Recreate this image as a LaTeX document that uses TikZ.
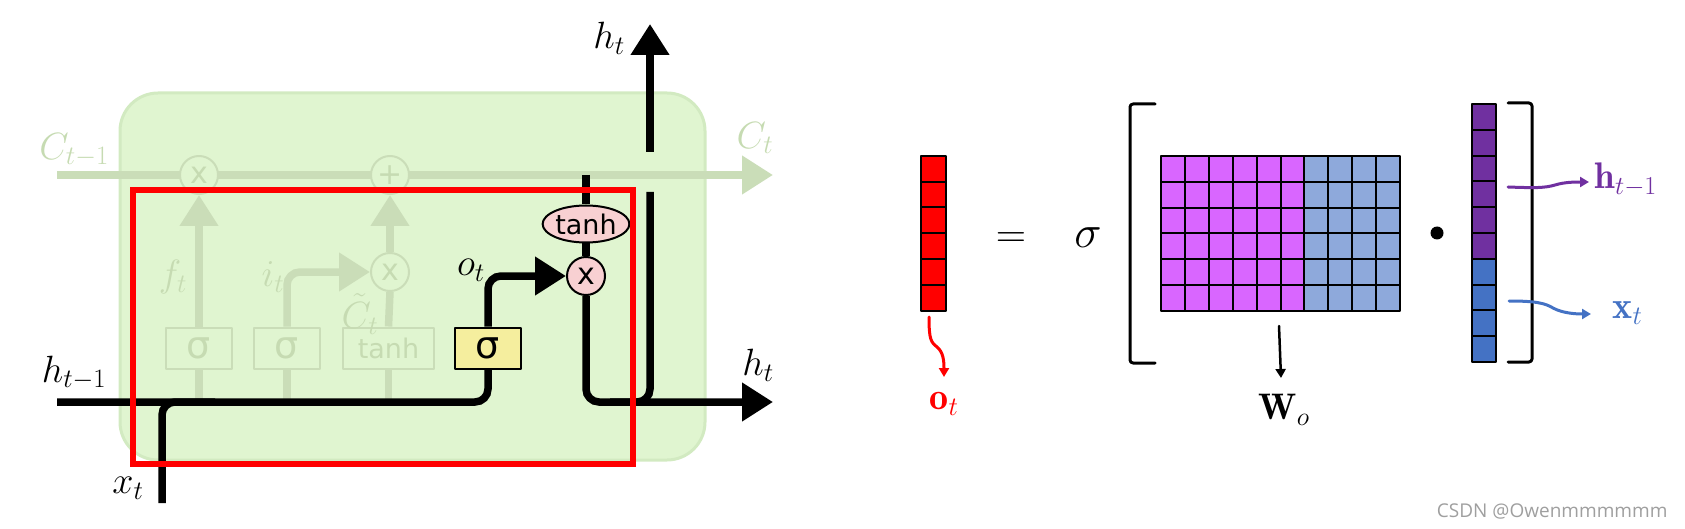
\RequirePackage{fix-cm}
\documentclass[tikz,border=0pt]{standalone}
\usepackage{amsmath,amssymb}
\usepackage{fontspec}
\newfontfamily\gatefont{DejaVu Sans}
\newfontfamily\markfont{Open Sans}
\usetikzlibrary{arrows.meta,shapes.geometric}
\definecolor{cellgreen}{HTML}{E0F5D0}
\definecolor{cellrim}{HTML}{D2EAC1}
\definecolor{faded}{HTML}{CADDB8}
\definecolor{fadetxt}{HTML}{C6DBB2}
\definecolor{gateyellow}{HTML}{F5EE9E}
\definecolor{gatepink}{HTML}{F8D0D2}
\definecolor{wpurple}{HTML}{D966FF}
\definecolor{wblue}{HTML}{8EA9DB}
\definecolor{hpurple}{HTML}{7030A0}
\definecolor{xblue}{HTML}{4472C4}
\pgfdeclarelayer{back}
\pgfdeclarelayer{wires}
\pgfsetlayers{back,wires,main}
\tikzset{
  every picture/.style={line join=round, line cap=round, >=Stealth},
  wire/.style={line width=7.5pt, rounded corners=13pt},
  fadewire/.style={draw=faded, line width=7.5pt, rounded corners=13pt},
  bigtip/.style={-{Triangle[length=31pt,width=37pt]}},
  smalltip/.style={-{Triangle[length=9pt,width=10pt]}},
  fadebox/.style={draw=faded, fill=cellgreen, line width=2pt, minimum width=66pt, minimum height=41pt, inner sep=0pt, text=fadetxt},
  fadeop/.style={circle, draw=faded, fill=cellgreen, line width=2pt, minimum size=38pt, inner sep=0pt, text=fadetxt, font=\gatefont\fontsize{30}{30}\selectfont},
  sig/.style={font=\gatefont\fontsize{38}{38}\selectfont},
  tnh/.style={font=\gatefont\fontsize{27}{27}\selectfont},
  lbl/.style={font=\fontsize{38}{40}\selectfont, inner sep=0pt},
  cellbox/.style={draw=black, line width=2pt},
}

\begin{document}
\begin{tikzpicture}[x=1pt,y=-1pt]
\useasboundingbox (0,0) rectangle (1685,529);
\begin{pgfonlayer}{back}
\draw[cellrim, fill=cellgreen, line width=3pt, rounded corners=38pt] (120,93) rectangle (705,460);
\end{pgfonlayer}

% end points of the wires
\coordinate (cin) at (57,175);
\coordinate (cout) at (773,175);
\coordinate (hin) at (57,402);
\coordinate (xin) at (162,503);
\coordinate (xj) at (215,402);
\coordinate (ctap) at (586,175);
\coordinate (hout) at (773,402);
\coordinate (hj) at (610,402);
\coordinate (hgap) at (650,192);
\coordinate (hup) at (650,152);
\coordinate (htop) at (650,24);

% faded gates
\node[fadeop] (fmul) at (199,175) {x};
\node[fadeop] (cadd) at (390,175) {+};
\node[fadeop] (imul) at (390,272) {x};
\node[fadebox, sig] (fsig) at (199,348) {σ};
\node[fadebox, sig] (isig) at (287,348) {σ};
\node[fadebox, tnh, minimum width=91pt] (ctanh) at (388.5,348) {tanh};
\node[lbl, text=fadetxt] (flab) at (173,277) {$f_t$};
\node[lbl, text=fadetxt] (ilab) at (273,277) {$i_t$};
\node[lbl, text=fadetxt] (clab) at (360,314) {$\tilde{C}_t$};
\node[lbl, text=fadetxt] (cprev) at (74,150) {$C_{t-1}$};
\node[lbl, text=fadetxt] (cnext) at (755,138) {$C_t$};

% output gate
\node[draw=black, fill=gateyellow, line width=2pt, minimum width=66pt, minimum height=41pt, inner sep=0pt, sig] (osig) at (488,348) {σ};
\node[circle, draw=black, fill=gatepink, line width=2pt, minimum size=38pt, inner sep=0pt, font=\gatefont\fontsize{30}{30}\selectfont] (omul) at (586,276) {x};
\node[ellipse, draw=black, fill=gatepink, line width=2pt, minimum width=86pt, minimum height=37pt, inner sep=0pt, tnh] (otanh) at (586,224) {tanh};
\node[lbl] (olab) at (471,270) {$o_t$};
\node[lbl] (hprev) at (74,373) {$h_{t-1}$};
\node[lbl] (xlab) at (128,488) {$x_t$};
\node[lbl] (hright) at (758,365) {$h_t$};
\node[lbl] (hlab) at (609,38) {$h_t$};

\begin{pgfonlayer}{wires}
\draw[fadewire, bigtip] (cin) -- (cout);
\draw[fadewire, bigtip] (fsig.north) -- (fmul.south);
\draw[fadewire, bigtip] (isig.north) |- (imul.west);
\draw[fadewire] (ctanh.north) -- (imul.south);
\draw[fadewire, bigtip] (imul.north) -- (cadd.south);
\draw[fadewire] (fsig.south) -- (fsig.south |- hin);
\draw[fadewire] (isig.south) -- (isig.south |- hin);
\draw[fadewire] (ctanh.south) -- (ctanh.south |- hin);
\draw[wire] (hin) -| (osig.south);
\draw[wire] (xin) |- (xj);
\draw[wire, bigtip] (osig.north) |- (omul.west);
\draw[wire] (ctap) -- (otanh.north);
\draw[wire] (otanh.south) -- (omul.north);
\draw[wire, bigtip] (omul.south) |- (hout);
\draw[wire] (hj) -| (hgap);
\draw[wire, bigtip] (hup) -- (htop);
\end{pgfonlayer}

% highlighted part
\draw[red, line width=6.5pt, line cap=butt, line join=miter] (133,190) rectangle (633,464);

% o_t = sigma [ W_o . (h_{t-1}; x_t) ]
\foreach \i in {0,...,5}
  \draw[cellbox, fill=red] (921,155.7+25.9*\i) rectangle ++(25,25.9);
\foreach \i in {0,...,5}{
  \foreach \j in {0,...,5}
    \draw[cellbox, fill=wpurple] (1161+23.9*\j,156+25.8*\i) rectangle ++(23.9,25.8);
  \foreach \j in {6,...,9}
    \draw[cellbox, fill=wblue] (1161+23.9*\j,156+25.8*\i) rectangle ++(23.9,25.8);
}
\foreach \i in {0,...,5}
  \draw[cellbox, fill=hpurple] (1472,104+25.8*\i) rectangle ++(24,25.8);
\foreach \i in {6,...,9}
  \draw[cellbox, fill=xblue] (1472,104+25.8*\i) rectangle ++(24,25.8);

\draw[line width=3pt, rounded corners=3pt] (1155,104) -- (1130,104) -- (1130,363) -- (1155,363);
\draw[line width=3pt, rounded corners=3pt] (1508,103) -- (1532,103) -- (1532,362) -- (1508,362);

\node[font=\fontsize{42}{42}\selectfont] (eq) at (1011,240) {$=$};
\node[font=\fontsize{46}{46}\selectfont] (sg) at (1088,238) {$\sigma$};
\fill (1437,233) circle (6.5);

\coordinate (ostart) at (929,317);
\coordinate (otip) at (944,377);
\coordinate (wstart) at (1279,326);
\coordinate (wtip) at (1281,378);
\coordinate (hstart) at (1508,187);
\coordinate (htip) at (1589,182);
\coordinate (xstart) at (1509,301);
\coordinate (xtip) at (1591,314);

\draw[red, line width=3pt, smalltip] (ostart) .. controls (929,340) and (931,342) .. (937,347) .. controls (943,352) and (944,360) .. (otip);
\draw[line width=2.5pt, smalltip] (wstart) -- (wtip);
\draw[hpurple, line width=3pt, smalltip] (hstart) .. controls (1535,188) and (1545,188) .. (1555,185) .. controls (1565,182) and (1575,182) .. (htip);
\draw[xblue, line width=3pt, smalltip] (xstart) .. controls (1535,301) and (1545,303) .. (1553,308) .. controls (1562,313) and (1575,314) .. (xtip);

\node[font=\fontsize{38}{40}\selectfont, text=red] (ovec) at (944,404) {$\mathbf{o}_t$};
\node[font=\fontsize{37}{40}\selectfont] (wmat) at (1284,410) {$\mathbf{W}_o$};
\node[font=\fontsize{37}{40}\selectfont, text=hpurple, anchor=west] (hvec) at (1591,180) {$\mathbf{h}_{t-1}$};
\node[font=\fontsize{38}{40}\selectfont, text=xblue, anchor=west] (xvec) at (1609,313) {$\mathbf{x}_t$};

\node[font=\markfont\fontsize{19}{20}\selectfont, text=gray!75, anchor=east] (mark) at (1671,511) {CSDN @Owenmmmmmm};
\end{tikzpicture}
\end{document}
